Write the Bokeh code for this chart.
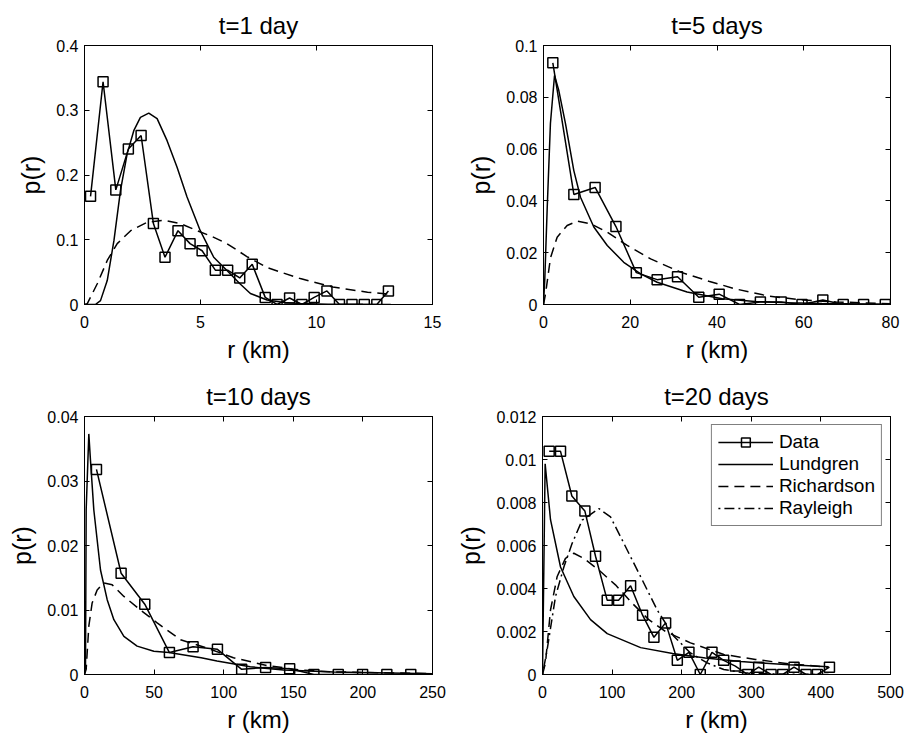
from bokeh.plotting import figure
from bokeh.models import (Range1d, LinearAxis, FixedTicker, CustomJSTickFormatter,
                          Legend, LegendItem)
from bokeh.layouts import column, row
from bokeh.embed import file_html
from bokeh.resources import INLINE

FONT = "Liberation Sans"

# ---------------- data ----------------
titles = ["t=1 day", "t=5 days", "t=10 days", "t=20 days"]

# t = 1 day
d1_x = [0.26, 0.80, 1.35, 1.89, 2.44, 2.97, 3.47, 4.03, 4.55, 5.07, 5.64, 6.17, 6.69,
        7.23, 7.79, 8.30, 8.84, 9.37, 9.90, 10.45, 10.99, 11.53, 12.06, 12.60, 13.10]
d1_y = [0.167, 0.344, 0.177, 0.240, 0.261, 0.125, 0.073, 0.114, 0.094, 0.083, 0.053, 0.053,
        0.041, 0.062, 0.011, 0.0, 0.010, 0.0, 0.011, 0.021, 0.0, 0.0, 0.0, 0.0, 0.021]
l1_x = [0, 0.47, 0.69, 0.98, 1.27, 1.55, 1.84, 2.13, 2.41, 2.77, 3.13, 3.56, 3.99, 4.42,
        4.99, 5.57, 6.14, 6.70, 7.15, 7.87, 8.6, 9.3, 10.5, 12.0, 13.2]
l1_y = [0, 0, 0.006, 0.037, 0.099, 0.176, 0.233, 0.269, 0.289, 0.2955, 0.287, 0.253, 0.212,
        0.166, 0.114, 0.073, 0.0525, 0.032, 0.017, 0.007, 0.003, 0.0015, 0.0005, 0.0002, 0.0001]
r1_x = [0, 0.115, 0.55, 0.98, 1.41, 1.99, 2.70, 3.42, 4.14, 4.85, 5.5, 6.14, 7.0, 7.87,
        9.3, 10.7, 12.2, 13.1]
r1_y = [0, 0.001, 0.032, 0.068, 0.094, 0.114, 0.127, 0.130, 0.125, 0.114, 0.105, 0.094,
        0.074, 0.057, 0.040, 0.027, 0.019, 0.016]

# t = 5 days
d2_x = [2.15, 7.0, 11.9, 16.7, 21.4, 26.2, 30.9, 35.8, 40.5, 45.2, 50.0, 54.8, 59.6,
        64.4, 69.1, 73.8, 78.8]
d2_y = [0.0933, 0.0425, 0.0452, 0.0301, 0.0123, 0.0096, 0.0107, 0.0028, 0.0040, 0.0,
        0.0010, 0.0010, 0.0, 0.0017, 0.0, 0.0, 0.0]
l2_x = [0, 0.3, 0.85, 1.6, 2.54, 3.53, 5.07, 6.99, 8.53, 11.6, 14.7, 18.5, 22.4, 26.2,
        33.1, 41.2, 48.8, 56.5, 64.2, 80]
l2_y = [0, 0.010, 0.037, 0.070, 0.0884, 0.0826, 0.0698, 0.0517, 0.0414, 0.0299, 0.0228,
        0.0163, 0.0118, 0.0086, 0.0048, 0.0022, 0.0012, 0.0007, 0.0004, 0.0001]
r2_x = [0, 0.46, 1.61, 3.15, 5.45, 7.76, 10.84, 14.7, 19.3, 24.7, 31.6, 38.1, 44.3, 52.0,
        60.0, 67.5, 80]
r2_y = [0, 0.004, 0.018, 0.026, 0.0305, 0.0322, 0.0312, 0.0279, 0.0228, 0.0176, 0.0125,
        0.0090, 0.0060, 0.0032, 0.0017, 0.0010, 0.0003]

# t = 10 days
d3_x = [8.6, 26.3, 43.3, 61.0, 78.0, 95.5, 112.9, 130.1, 147.4, 164.8, 182.3, 199.8,
        217.2, 234.4]
d3_y = [0.0318, 0.0157, 0.0109, 0.0034, 0.0043, 0.0039, 0.0008, 0.0011, 0.0009, 0.0,
        0.0, 0.0, 0.0, 0.0]
l3_x = [0, 0.72, 1.2, 3.1, 4.3, 6.7, 11.5, 16.3, 21.1, 28.3, 37.8, 49.8, 60.6, 83.8,
        95.2, 119, 143, 179, 250]
l3_y = [0, 0.0013, 0.0255, 0.0373, 0.0332, 0.0255, 0.0162, 0.0116, 0.0085, 0.0059,
        0.0044, 0.0036, 0.0034, 0.0026, 0.0021, 0.0012, 0.0007, 0.0004, 0.0001]
r3_x = [0, 1.2, 3.1, 5.5, 9.1, 13.9, 19.9, 28.3, 40.2, 52.2, 69, 88, 107, 131, 155, 179, 250]
r3_y = [0, 0.0008, 0.0075, 0.0111, 0.0131, 0.0142, 0.0139, 0.0121, 0.0100, 0.0080, 0.0054,
        0.0041, 0.0026, 0.0014, 0.0007, 0.0004, 0.00015]

# t = 20 days
d4_x = [9.6, 25.9, 42.2, 60.9, 76.2, 93.0, 109.3, 126.6, 143.8, 160.1, 176.9, 193.7,
        210.4, 226.7, 243.5, 260.3, 277.1, 294.8, 310.6, 328.4, 345.2, 361.4, 378.7,
        395.0, 412.3]
d4_y = [0.01038, 0.01038, 0.0083, 0.0076, 0.0055, 0.00345, 0.00345, 0.00413, 0.00276,
        0.00173, 0.0024, 0.00066, 0.00103, 0.0, 0.00103, 0.00066, 0.00039, 0.0, 0.00034,
        0.0, 0.0, 0.00034, 0.0, 0.0, 0.00034]
l4_x = [0, 3.8, 11.5, 25.9, 45, 69, 93, 141, 187, 234, 285, 354, 411]
l4_y = [0, 0.0098, 0.0072, 0.0050, 0.00363, 0.00255, 0.0019, 0.00125, 0.00098, 0.00077,
        0.0006, 0.00045, 0.00036]
r4_x = [0, 4.3, 11.5, 21.1, 33, 45, 59.3, 80.9, 104.8, 128.8, 152.7, 176.7, 212.6, 260.5,
        306, 354, 411]
r4_y = [0, 0.00054, 0.0030, 0.00456, 0.0054, 0.00564, 0.0054, 0.00486, 0.00417, 0.00332,
        0.00255, 0.0020, 0.00147, 0.00093, 0.0007, 0.0005, 0.00034]
g4_x = [0, 6.7, 18.7, 30.7, 42.6, 57, 81, 97.7, 116.9, 140.8, 164.8, 188.7, 212.6, 236.6,
        260.5, 290, 330, 411]
g4_y = [0, 0.00116, 0.00363, 0.0050, 0.0061, 0.00718, 0.00772, 0.00733, 0.0061, 0.00456,
        0.0030, 0.00178, 0.0010, 0.00054, 0.00023, 0.00008, 0.00002, 0.0]

x_ticks = [[0, 5, 10, 15], [0, 20, 40, 60, 80], [0, 50, 100, 150, 200, 250],
           [0, 100, 200, 300, 400, 500]]
y_ticks = [[0, 0.1, 0.2, 0.3, 0.4], [0, 0.02, 0.04, 0.06, 0.08, 0.1],
           [0, 0.01, 0.02, 0.03, 0.04], [0, 0.002, 0.004, 0.006, 0.008, 0.01, 0.012]]

# ---------------- layout ----------------
fmt_code = "return (+tick.toFixed(6)).toString();"
blank_code = "return '';"

def make_panel(i, w, h, bl, br, bt, bb):
    xt, yt = x_ticks[i], y_ticks[i]
    p = figure(width=w, height=h, output_backend="svg", toolbar_location=None,
               x_range=Range1d(xt[0], xt[-1]), y_range=Range1d(yt[0], yt[-1]),
               min_border_left=bl, min_border_right=br, min_border_top=bt,
               min_border_bottom=bb, x_axis_label="r (km)", y_axis_label="p(r)")
    p.title.text = titles[i]
    p.title.text_font = FONT
    p.title.text_font_size = "24px"
    p.title.text_font_style = "normal"
    p.title.text_color = "black"
    p.title.align = "center"
    p.title.vertical_align = "top"
    p.title.standoff = 10
    p.grid.visible = False
    p.outline_line_color = "black"
    p.outline_line_width = 1
    p.background_fill_color = "white"
    p.border_fill_color = "white"
    for ax, ticks in ((p.xaxis[0], xt), (p.yaxis[0], yt)):
        ax.ticker = FixedTicker(ticks=ticks)
        ax.formatter = CustomJSTickFormatter(code=fmt_code)
        ax.major_tick_in = 5
        ax.major_tick_out = 0
        ax.minor_tick_line_color = None
        ax.major_label_text_font = FONT
        ax.major_label_text_font_size = "16px"
        ax.axis_label_text_font = FONT
        ax.axis_label_text_font_style = "normal"
        ax.axis_line_color = "black"
        ax.major_tick_line_color = "black"
        ax.major_label_text_color = "black"
        ax.axis_label_text_color = "black"
    p.xaxis[0].axis_label_text_font_size = "24px"
    p.yaxis[0].axis_label_text_font_size = "25px"
    p.xaxis[0].major_label_standoff = 11
    p.yaxis[0].major_label_standoff = 6
    p.xaxis[0].axis_label_standoff = 5
    p.yaxis[0].axis_label_standoff = 8
    # tick marks on the top and right edges of the box
    for side, ticks in (("above", xt), ("right", yt)):
        ax = LinearAxis(ticker=FixedTicker(ticks=ticks),
                        formatter=CustomJSTickFormatter(code=blank_code),
                        major_tick_in=5, major_tick_out=0,
                        minor_tick_line_color=None,
                        major_label_text_font_size="0px", major_label_standoff=0,
                        axis_line_color="black", major_tick_line_color="black")
        p.add_layout(ax, side)
    return p

LW = 1.5
DASH = "10 6"
DASHDOT = "2 4 10 4"

def draw(p, dx, dy, lx, ly, rx, ry):
    rd = p.line(dx, dy, line_color="black", line_width=LW)
    rs = p.scatter(dx, dy, marker="square", size=10, fill_color=None,
                   line_color="black", line_width=LW)
    rl = p.line(lx, ly, line_color="black", line_width=LW)
    rr = p.line(rx, ry, line_color="black", line_width=LW, line_dash=DASH)
    return rd, rs, rl, rr

p1 = make_panel(0, 454, 368, 84, 22, 45, 64)
draw(p1, d1_x, d1_y, l1_x, l1_y, r1_x, r1_y)
p2 = make_panel(1, 455, 368, 89, 19, 45, 64)
draw(p2, d2_x, d2_y, l2_x, l2_y, r2_x, r2_y)
p3 = make_panel(2, 454, 367, 84, 22, 48, 60)
draw(p3, d3_x, d3_y, l3_x, l3_y, r3_x, r3_y)
p4 = make_panel(3, 455, 367, 88, 19, 48, 60)
rd, rs, rl, rr = draw(p4, d4_x, d4_y, l4_x, l4_y, r4_x, r4_y)
rg = p4.line(g4_x, g4_y, line_color="black", line_width=LW, line_dash=DASHDOT)

legend = Legend(items=[LegendItem(label="Data", renderers=[rd, rs]),
                       LegendItem(label="Lundgren", renderers=[rl]),
                       LegendItem(label="Richardson", renderers=[rr]),
                       LegendItem(label="Rayleigh", renderers=[rg])],
                location="top_right", margin=8, padding=6, spacing=0,
                glyph_width=55, glyph_height=22, label_height=22, label_standoff=6,
                label_text_font=FONT, label_text_font_size="19px",
                label_text_color="black",
                border_line_color="black", border_line_width=1,
                background_fill_color="white", background_fill_alpha=1.0)
p4.add_layout(legend)

layout = column(row(p1, p2), row(p3, p4))
open("out.html", "w").write(file_html(layout, INLINE))
